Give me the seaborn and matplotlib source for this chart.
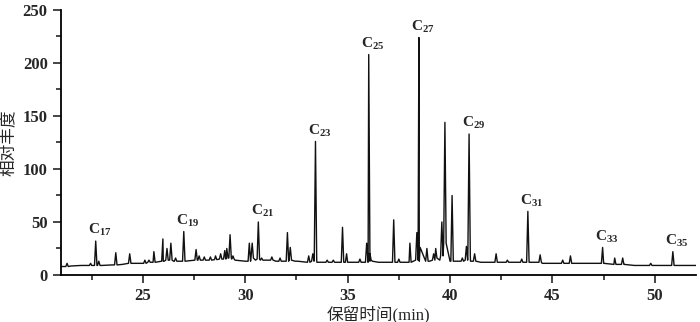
import numpy as np
import pandas as pd
import matplotlib
matplotlib.use("Agg")
import matplotlib.pyplot as plt
import seaborn as sns
from matplotlib.ticker import MultipleLocator

# baseline of the chromatogram (time in min, abundance)
base_time = [21.0, 21.5, 22.0, 22.5, 23.0, 23.5, 24.0, 24.5, 25.0, 25.5, 26.0, 26.5,
             27.0, 27.5, 28.0, 28.5, 29.0, 29.5, 30.0, 30.5, 31.0, 31.5, 32.0, 32.5,
             33.0, 33.5, 34.0, 34.5, 35.0, 35.5, 36.0, 36.5, 37.0, 37.5, 38.0, 38.5,
             39.0, 39.5, 40.0, 40.5, 41.0, 41.5, 42.0, 42.5, 43.0, 43.5, 44.0, 44.5,
             45.0, 45.5, 46.0, 46.5, 47.0, 47.5, 48.0, 48.5, 49.0, 49.5, 50.0, 50.5,
             51.0, 51.5, 52.0]
base_val = [8, 8.5, 9, 9, 9, 9.5, 10, 11, 11, 12, 13, 13,
            13, 14, 14, 14.5, 15, 14, 13, 14, 14, 13, 13, 13,
            12, 12, 12, 12, 12, 12, 12, 12, 12, 12, 12, 13,
            13, 14, 13, 13, 13, 12, 12, 12, 12, 12, 12, 11,
            11, 11, 11, 11, 11, 11, 10, 10, 9, 9, 9, 9,
            9, 9, 9]

# peaks: retention time, apex height, level at the foot of the peak
peak_time = [21.3, 22.45, 22.7, 22.85, 23.68, 24.36, 25.1, 25.3, 25.54, 25.98, 26.18,
             26.37, 26.6, 27.0, 27.6, 27.75, 28.0, 28.3, 28.55, 28.8, 29.0, 29.1,
             29.26, 29.4, 30.2, 30.34, 30.64, 30.8, 31.3, 31.7, 32.06, 32.2, 32.5,
             33.1, 33.3, 33.43, 34.0, 34.3, 34.75, 34.95, 35.6, 35.93, 36.03, 36.15,
             37.25, 37.5, 38.04, 38.38, 38.48, 38.87, 39.2, 39.3, 39.6, 39.75, 40.1,
             40.6, 40.8, 40.93, 41.2, 42.25, 42.8, 43.5, 43.8, 44.4, 45.5, 45.88,
             47.45, 48.04, 48.43, 49.8, 50.88]
peak_height = [11, 11, 32, 13, 21, 20, 14, 14, 22, 34, 25,
               30, 16, 41, 24, 18, 17, 17, 18, 20, 23, 25,
               38, 18, 30, 30, 50, 16, 17, 16, 40, 26, 15,
               18, 20, 126, 14, 14, 45, 20, 15, 30, 208, 14,
               52, 15, 30, 40, 224, 25, 20, 25, 50, 144, 75,
               16, 27, 133, 20, 20, 14, 15, 60, 19, 14, 18,
               26, 16, 16, 11, 22]
peak_base = [8, 9, 9, 9, 9.5, 11, 11, 12, 12, 13, 14,
             14, 13, 13, 14, 14, 14, 14, 14.5, 15, 15, 16,
             16, 15, 13, 16, 15, 14, 14, 13, 13, 14, 13,
             12, 13, 14, 12, 12, 12, 12, 12, 12, 20, 13,
             12, 12, 12, 14, 26, 13, 14, 16, 18, 30, 13,
             13, 14, 18, 13, 12, 12, 12, 12, 12, 11, 11,
             11, 10, 10, 9, 9]

labels = ["C$_{17}$", "C$_{19}$", "C$_{21}$", "C$_{23}$", "C$_{25}$", "C$_{27}$",
          "C$_{29}$", "C$_{31}$", "C$_{33}$", "C$_{35}$"]
label_time = [22.7, 27.0, 30.64, 33.43, 36.03, 38.48, 40.93, 43.8, 47.45, 50.88]
label_height = [32, 41, 50, 126, 208, 224, 133, 60, 26, 22]

half_width = 0.06

pts = list(zip(base_time, base_val))
for t, h, b in zip(peak_time, peak_height, peak_base):
    pts += [(t - half_width, b), (t, h), (t + half_width, b)]
trace = pd.DataFrame(pts, columns=["time", "abundance"]).sort_values("time")
trace = trace.drop_duplicates("time")

sns.set_style("ticks")
plt.rcParams["font.family"] = ["Liberation Serif", "Noto Sans CJK SC"]
plt.rcParams["mathtext.fontset"] = "custom"
plt.rcParams["mathtext.rm"] = "Liberation Serif:bold"
plt.rcParams["mathtext.default"] = "rm"

fig = plt.figure(figsize=(7, 3.22), dpi=100)
ax = fig.add_axes([0.087, 0.146, 0.907, 0.823])

sns.lineplot(data=trace, x="time", y="abundance", color="#111111", lw=1.0,
             estimator=None, sort=False, ax=ax)

for lab, t, h in zip(labels, label_time, label_height):
    ax.annotate(lab, (t, h), xytext=(3, 2), textcoords="offset points",
                ha="center", va="bottom", fontsize=11, fontweight="bold")

ax.set_xlim(21, 52)
ax.set_ylim(0, 250)
ax.xaxis.set_major_locator(MultipleLocator(5))
ax.xaxis.set_minor_locator(MultipleLocator(2.5))
ax.yaxis.set_major_locator(MultipleLocator(50))
ax.yaxis.set_minor_locator(MultipleLocator(25))
ax.tick_params(which="major", length=6, width=1.2, labelsize=12, direction="out")
ax.tick_params(which="minor", length=3.5, width=1.2, direction="out")
for lbl in ax.get_xticklabels() + ax.get_yticklabels():
    lbl.set_fontweight("bold")
sns.despine(ax=ax)
for s in ["left", "bottom"]:
    ax.spines[s].set_linewidth(1.3)
    ax.spines[s].set_color("black")

ax.set_xlabel("保留时间(min)", fontsize=12, labelpad=1)
ax.set_ylabel("相对丰度", fontsize=12, labelpad=4)

fig.savefig("out.png", dpi=100)
